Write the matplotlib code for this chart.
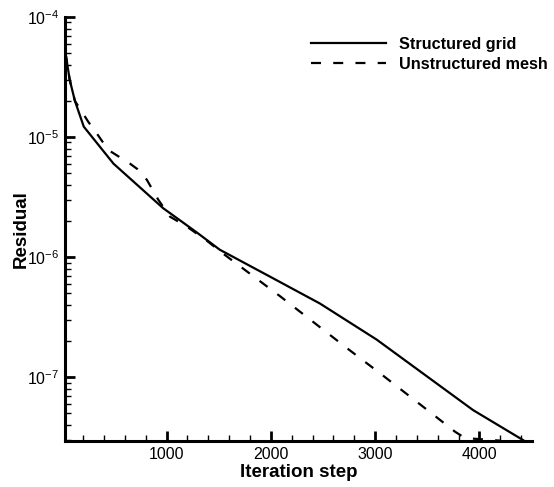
import numpy as np
import matplotlib
matplotlib.use('Agg')
import matplotlib.pyplot as plt
from matplotlib.ticker import LogLocator, MultipleLocator, FixedLocator

plt.rcParams['font.family'] = ['Liberation Sans', 'DejaVu Sans']
plt.rcParams['mathtext.fontset'] = 'custom'
plt.rcParams['mathtext.rm'] = 'Liberation Sans'
plt.rcParams['mathtext.default'] = 'regular'

# residual history
structured_iter = [30, 70, 120, 205, 490, 967, 1290, 1510, 2000, 2470, 3015, 3940, 4420]
structured_res = [5.0e-5, 3.0e-5, 2.0e-5, 1.22e-5, 6.0e-6, 2.55e-6, 1.6e-6,
                  1.15e-6, 6.8e-7, 4.1e-7, 2.05e-7, 5.3e-8, 2.98e-8]

unstructured_iter = [30, 70, 120, 248, 330, 440, 648, 720, 810, 920, 1032, 1190, 1380,
                     1540, 2090, 2730, 3050, 3527, 3767, 3863, 4200]
unstructured_res = [5.0e-5, 3.0e-5, 2.0e-5, 1.34e-5, 1.07e-5, 7.8e-6, 6.0e-6, 5.4e-6,
                    4.4e-6, 3.0e-6, 2.17e-6, 1.8e-6, 1.38e-6, 1.07e-6, 4.7e-7, 1.74e-7,
                    1.07e-7, 5.1e-8, 3.5e-8, 3.1e-8, 2.95e-8]

fig = plt.figure(figsize=(5.54, 4.87), dpi=100)
ax = fig.add_axes([65 / 554, 1 - 441 / 487, (532 - 65) / 554, (441 - 17) / 487])

ax.plot(structured_iter, structured_res, color='black', lw=1.6, label='Structured grid')
ax.plot(unstructured_iter, unstructured_res, color='black', lw=1.6,
        linestyle=(0, (4.5, 5.5)), label='Unstructured mesh')

ax.set_yscale('log')
ax.set_xlim(25, 4505)
ax.set_ylim(2.93e-8, 1e-4)

ax.spines['top'].set_visible(False)
ax.spines['right'].set_visible(False)
ax.spines['left'].set_linewidth(2.2)
ax.spines['bottom'].set_linewidth(2.2)

ax.xaxis.set_major_locator(FixedLocator([1000, 2000, 3000, 4000]))
ax.xaxis.set_minor_locator(MultipleLocator(200))
ax.yaxis.set_minor_locator(LogLocator(base=10, subs=np.arange(2, 10), numticks=20))
ax.set_yticks([1e-7, 1e-6, 1e-5, 1e-4])
ax.set_yticklabels(['10$^{-7}$', '10$^{-6}$', '10$^{-5}$', '10$^{-4}$'])

ax.tick_params(which='major', direction='in', length=7, width=2, labelsize=11.5, pad=4)
ax.tick_params(which='minor', direction='in', length=4.5, width=1)

ax.set_xlabel('Iteration step', fontsize=13.5, fontweight='bold', labelpad=2)
ax.set_ylabel('Residual', fontsize=13.5, fontweight='bold', labelpad=-2)

ax.legend(loc='upper left', bbox_to_anchor=(311 / 554, 1 - 37 / 487),
          bbox_transform=fig.transFigure, frameon=False, borderpad=0, borderaxespad=0,
          handlelength=4.6, handletextpad=0.8, labelspacing=0.3,
          prop={'size': 11.7, 'weight': 'bold'})

fig.savefig('out.png', dpi=100)
